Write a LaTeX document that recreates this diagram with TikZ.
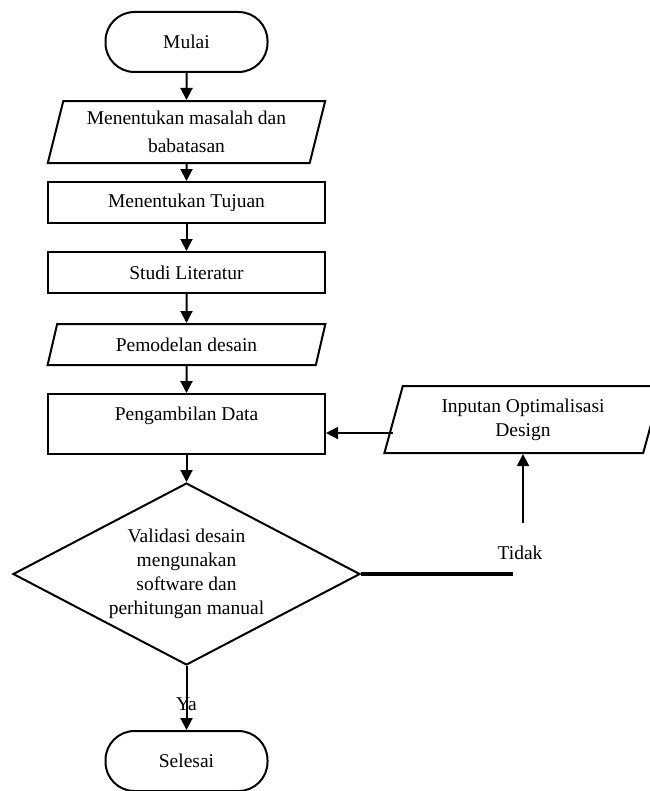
\documentclass[tikz,border=0pt]{standalone}
\usepackage{fontspec}
\setmainfont{Liberation Serif}
\usetikzlibrary{arrows.meta,positioning,shapes.geometric}

\begin{document}
\begin{tikzpicture}[x=1pt, y=1pt, >={Triangle[length=12pt,width=12pt]}, line width=2pt,
  every node/.style={font=\fontsize{19.5}{24}\selectfont, align=center},
  term/.style={draw, rounded corners=29pt, minimum width=162pt, minimum height=60pt},
  proc/.style={draw, minimum width=277pt, minimum height=41pt},
  io/.style={draw, trapezium, trapezium left angle=75, trapezium right angle=105,
    trapezium stretches=true, minimum width=278pt},
  decide/.style={draw, diamond, aspect=1.9, inner sep=0pt, minimum width=347pt, minimum height=182pt}]
\useasboundingbox (0,0) rectangle (649,-791);
\node[term] (start) at (186.5,-42) {Mulai};
\node[io, minimum height=62pt, below=27pt of start] (prob) {Menentukan masalah dan\\[4pt]babatasan};
\node[proc, below=17pt of prob] (goal) {Menentukan Tujuan};
\node[proc, below=27pt of goal] (lit) {Studi Literatur};
\node[io, minimum height=41pt, below=29pt of lit] (model) {Pemodelan desain};
\node[proc, minimum height=60pt, text depth=20pt, below=27pt of model] (data) {Pengambilan Data};
\node[io, minimum height=67pt] (input) at (523,-419.5) {Inputan Optimalisasi\\Design};
\node[decide, below=27pt of data] (valid) {Validasi desain\\mengunakan\\software dan\\perhitungan manual};
\node[term, below=64pt of valid] (stop) {Selesai};
\node (no) at (520,-553) {Tidak};
\coordinate (noend) at (513,-578);
\coordinate (upstart) at (523,-523);
\coordinate (dataIn) at ([yshift=-9pt]data.east);
% alur utama
\draw[->] (start) -- (prob);
\draw[->] (prob) -- (goal);
\draw[->] (goal) -- (lit);
\draw[->] (lit) -- (model);
\draw[->] (model) -- (data);
\draw[->] (data) -- (valid);
\draw[->] (valid) -- node[pos=0.6] {Ya} (stop);
% umpan balik
\draw[line width=4pt] (valid.east) -- (valid.east -| noend);
\draw[->] (upstart) -- (upstart |- input.south);
\draw[->] (dataIn -| input.west) -- (dataIn);
\end{tikzpicture}
\end{document}
